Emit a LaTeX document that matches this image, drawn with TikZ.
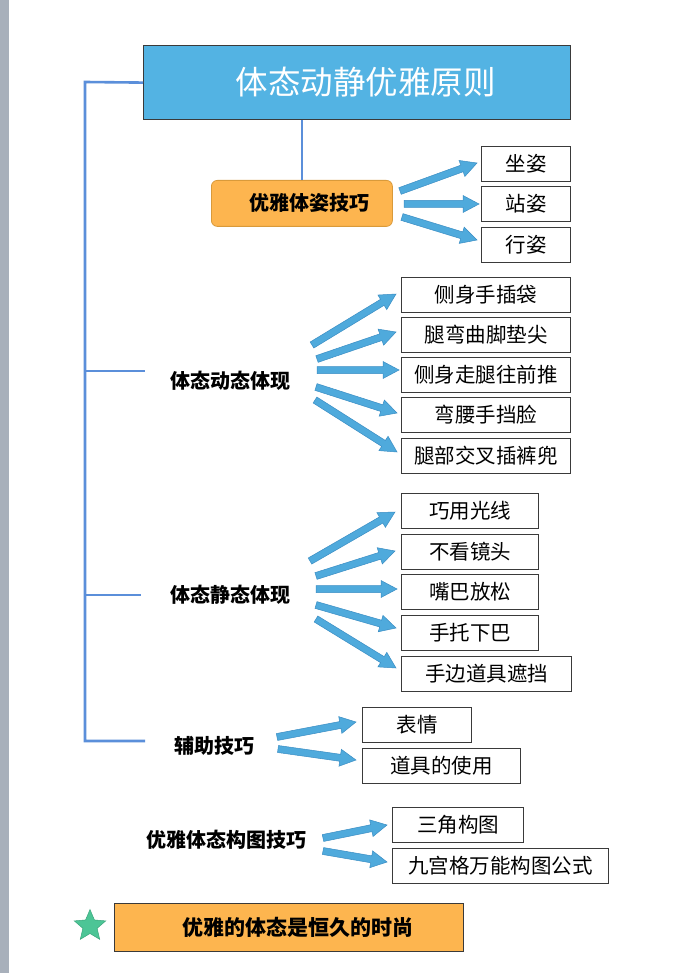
\documentclass[tikz,border=0pt]{standalone}
\usepackage{fontspec}
\setmainfont{Noto Sans CJK SC}
\usetikzlibrary{calc,shapes.geometric}
\definecolor{barGray}{HTML}{A8B0BB}
\definecolor{titleBlue}{HTML}{53B3E3}
\definecolor{connBlue}{HTML}{5B8FDA}
\definecolor{arrowFill}{HTML}{4FAADC}
\definecolor{arrowLine}{HTML}{3A8DC4}
\definecolor{orangeFill}{HTML}{FDB54F}
\definecolor{orangeLine}{HTML}{D99A3A}
\definecolor{boxLine}{HTML}{3A3A3A}
\definecolor{starGreen}{HTML}{4CC596}
\definecolor{starLine}{HTML}{3AA67C}
\newcommand\myblockarrow[2]{%
  \coordinate (bh) at ($(#2)!16pt!(#1)$);
  \filldraw[blockarrow] ($(#1)!3.5pt!90:(#2)$) -- ($(bh)!3.5pt!90:(#2)$) -- ($(bh)!8.5pt!90:(#2)$) -- (#2) -- ($(bh)!8.5pt!-90:(#2)$) -- ($(bh)!3.5pt!-90:(#2)$) -- ($(#1)!3.5pt!-90:(#2)$) -- cycle;}
\tikzset{
  leafbox/.style={draw=boxLine, line width=1.1pt, fill=white, inner sep=0pt, anchor=north west, minimum height=35pt, font=\fontsize{20.5}{21}\selectfont},
  catlabel/.style={inner sep=0pt, font=\fontsize{20}{20}\selectfont\bfseries},
  conn/.style={draw=connBlue, line width=2.6pt, line join=miter},
  blockarrow/.style={fill=arrowFill, draw=arrowLine, line width=0.5pt, line join=miter},
}
\begin{document}
\begin{tikzpicture}[x=1pt,y=-1pt]
\useasboundingbox (0,0) rectangle (693,973);
\fill[white] (0,0) rectangle (693,973);
\fill[barGray] (0,0) rectangle (9,973);

% title
\node[draw=boxLine, line width=1.2pt, fill=titleBlue, anchor=north west, minimum width=427pt, minimum height=74pt, inner sep=0pt, text=white, font=\fontsize{32.5}{33}\selectfont] (title) at (143,45) {\hspace*{17pt}体态动静优雅原则};

% first category (orange)
\node[draw=orangeLine, line width=0.8pt, fill=orangeFill, rounded corners=6pt, anchor=north west, minimum width=181pt, minimum height=46pt, inner sep=0pt, font=\fontsize{20}{20}\selectfont\bfseries] (cat1) at (211,180) {\hspace*{16pt}优雅体姿技巧};

\node[leafbox, minimum width=89pt] (l11) at (481,146) {坐姿};
\node[leafbox, minimum width=89pt] (l12) at (481,186) {站姿};
\node[leafbox, minimum width=89pt] (l13) at (481,227) {行姿};

% category 2
\node[catlabel] (cat2) at (230,381) {体态动态体现};
\node[leafbox, minimum width=169pt] (l21) at (401,277) {侧身手插袋};
\node[leafbox, minimum width=169pt] (l22) at (401,317) {腿弯曲脚垫尖};
\node[leafbox, minimum width=169pt] (l23) at (401,357) {侧身走腿往前推};
\node[leafbox, minimum width=169pt] (l24) at (401,397) {弯腰手挡脸};
\node[leafbox, minimum width=169pt] (l25) at (401,438) {腿部交叉插裤兜};

% category 3
\node[catlabel] (cat3) at (230,595) {体态静态体现};
\node[leafbox, minimum width=137pt] (l31) at (401,493) {巧用光线};
\node[leafbox, minimum width=137pt] (l32) at (401,534) {不看镜头};
\node[leafbox, minimum width=137pt] (l33) at (401,574) {嘴巴放松};
\node[leafbox, minimum width=137pt] (l34) at (401,615) {手托下巴};
\node[leafbox, minimum width=170pt] (l35) at (401,656) {手边道具遮挡};

% category 4
\node[catlabel] (cat4) at (214,746) {辅助技巧};
\node[leafbox, minimum width=109pt] (l41) at (362,707) {表情};
\node[leafbox, minimum width=158pt] (l42) at (362,748) {道具的使用};

% category 5
\node[catlabel] (cat5) at (226,840) {优雅体态构图技巧};
\node[leafbox, minimum width=131pt] (l51) at (392,807) {三角构图};
\node[leafbox, minimum width=216pt] (l52) at (392,848) {九宫格万能构图公式};

% bottom
\node[star, star points=5, star point ratio=2.2, minimum size=33pt, inner sep=0pt, fill=starGreen, draw=starLine, line width=0.5pt] (star) at (90,926) {};
\node[draw=boxLine, line width=1.1pt, fill=orangeFill, anchor=north west, minimum width=349pt, minimum height=48pt, inner sep=0pt, font=\fontsize{21}{21}\selectfont\bfseries] (motto) at (114,903) {\hspace*{17pt}优雅的体态是恒久的时尚};

% connectors
\coordinate (trunkTop) at (85,82);
\coordinate (trunkBot) at (85,741);
\coordinate (br2) at (145,371);
\coordinate (br3) at (141,595);
\coordinate (br4) at (145,741);
\draw[conn] (title.west) -- (trunkTop) -- (trunkBot) -- (br4);
\draw[conn] (trunkTop |- br2) -- (br2);
\draw[conn] (trunkTop |- br3) -- (br3);
\draw[conn] (cat1.north |- title.south) -- (cat1.north);

% block arrows
\coordinate (s11) at (400,191); \coordinate (e11) at (477,163);
\coordinate (s12) at (404,204); \coordinate (e12) at (479,204);
\coordinate (s13) at (402,217); \coordinate (e13) at (477,240);
\myblockarrow{s11}{e11}\myblockarrow{s12}{e12}\myblockarrow{s13}{e13}

\coordinate (s21) at (312,345); \coordinate (e21) at (396,294);
\coordinate (s22) at (317,359); \coordinate (e22) at (396,332);
\coordinate (s23) at (317,370); \coordinate (e23) at (399,370);
\coordinate (s24) at (316,387); \coordinate (e24) at (397,413);
\coordinate (s25) at (315,400); \coordinate (e25) at (397,452);
\myblockarrow{s21}{e21}\myblockarrow{s22}{e22}\myblockarrow{s23}{e23}\myblockarrow{s24}{e24}\myblockarrow{s25}{e25}

\coordinate (s31) at (310,561); \coordinate (e31) at (395,512);
\coordinate (s32) at (316,576); \coordinate (e32) at (395,551);
\coordinate (s33) at (316,589); \coordinate (e33) at (397,589);
\coordinate (s34) at (316,605); \coordinate (e34) at (396,628);
\coordinate (s35) at (316,619); \coordinate (e35) at (396,668);
\myblockarrow{s31}{e31}\myblockarrow{s32}{e32}\myblockarrow{s33}{e33}\myblockarrow{s34}{e34}\myblockarrow{s35}{e35}

\coordinate (s41) at (277,737); \coordinate (e41) at (356,722);
\coordinate (s42) at (278,749); \coordinate (e42) at (356,760);
\myblockarrow{s41}{e41}\myblockarrow{s42}{e42}

\coordinate (s51) at (323,838); \coordinate (e51) at (387,825);
\coordinate (s52) at (323,851); \coordinate (e52) at (387,862);
\myblockarrow{s51}{e51}\myblockarrow{s52}{e52}
\end{tikzpicture}
\end{document}
